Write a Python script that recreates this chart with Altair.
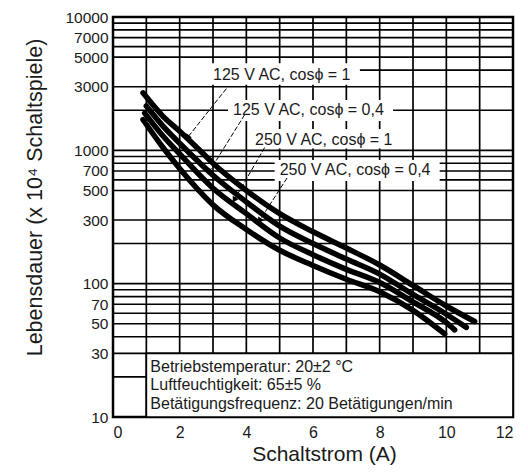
import math
import altair as alt
import pandas as pd

# ---------------- data ----------------
series_names = ["125 V AC, cosϕ = 1", "125 V AC, cosϕ = 0,4",
                "250 V AC, cosϕ = 1", "250 V AC, cosϕ = 0,4"]

x_a = [0.9, 1.5, 2.0, 2.5, 3.0, 4.0, 5.0, 6.0, 7.0, 8.0, 9.0, 10.0, 10.85]
y_a = [2700, 1800, 1390, 1060, 800, 500, 335, 245, 185, 138, 97, 68, 52]

x_b = [1.0, 1.5, 2.0, 3.0, 4.0, 5.0, 6.0, 7.0, 8.0, 9.0, 10.0, 10.6]
y_b = [2150, 1520, 1130, 650, 410, 270, 200, 153, 118, 83, 59, 47]

x_c = [0.95, 1.5, 2.0, 3.0, 4.0, 5.0, 6.0, 7.0, 8.0, 9.0, 10.0, 10.25]
y_c = [1900, 1280, 940, 520, 335, 220, 165, 128, 102, 73, 51, 45]

x_d = [0.9, 1.5, 2.0, 3.0, 4.0, 5.0, 6.0, 7.0, 8.0, 9.0, 9.95]
y_d = [1700, 1050, 730, 390, 255, 178, 137, 108, 87, 63, 42]

x_tick_labels = [0, 2, 4, 6, 8, 10, 12]
y_tick_labels = [10, 30, 50, 70, 100, 300, 500, 700, 1000, 3000, 5000, 7000, 10000]
x_grid = [1, 2, 3, 4, 5, 6, 7, 8, 9, 10, 11]
y_grid = [20, 30, 40, 50, 60, 70, 80, 90, 100, 200, 300, 500, 600, 700, 800,
          900, 1000, 2000, 3000, 5000, 6000, 7000, 8000, 9000]
# partial grid line right of the first label
part_grid_y = [4000]
part_grid_x1 = [7.4]
part_grid_x2 = [12]

# curve labels (text anchor) and their white boxes
label_x = [3.0, 3.6, 4.26, 5.0]
label_y = [3670, 2000, 1200, 710]
box_x1 = [2.82, 3.45, 4.1, 4.85]
box_x2 = [7.4, 8.4, 8.6, 9.8]
box_y1 = [3100, 1660, 1030, 590]
box_y2 = [4500, 2380, 1445, 845]

# arrows from labels to curves
arrow_x1 = [3.4, 3.95, 4.55, 5.22]
arrow_y1 = [2900, 1850, 1050, 620]
arrow_x2 = [2.25, 2.9, 3.65, 4.41]
arrow_y2 = [1260, 700, 430, 300]

# conditions box
cond_lines = ["Betriebstemperatur: 20±2 °C",
              "Luftfeuchtigkeit: 65±5 %",
              "Betätigungsfrequenz: 20 Betätigungen/min"]
cond_x = [1.12, 1.12, 1.12]
cond_y = [23.8, 17.3, 12.6]
cond_box = {"x1": [1.0], "x2": [12.0], "y1": [10.0], "y2": [30.0]}

# ---------------- tables ----------------
rows = []
for name, xs_, ys_ in zip(series_names, [x_a, x_b, x_c, x_d], [y_a, y_b, y_c, y_d]):
    for xv, yv in zip(xs_, ys_):
        rows.append({"series": name, "x": xv, "y": yv})
curves = pd.DataFrame(rows)

labels = pd.DataFrame({"text": series_names, "x": label_x, "y": label_y})
boxes = pd.DataFrame({"x1": box_x1, "x2": box_x2, "y1": box_y1, "y2": box_y2})

W, H = 400, 400
angles = []
for a, b, c, d in zip(arrow_x1, arrow_y1, arrow_x2, arrow_y2):
    dx = (c - a) * W / 12
    dy = -(math.log10(d) - math.log10(b)) * H / 3
    angles.append(math.degrees(math.atan2(dx, -dy)) % 360)
arrows = pd.DataFrame({"x1": arrow_x1, "y1": arrow_y1, "x2": arrow_x2,
                       "y2": arrow_y2, "ang": angles})
cond = pd.DataFrame({"text": cond_lines, "x": cond_x, "y": cond_y})
condbox = pd.DataFrame(cond_box)
xg = pd.DataFrame({"v": x_grid})
yg = pd.DataFrame({"v": y_grid})
pg = pd.DataFrame({"y": part_grid_y, "x1": part_grid_x1, "x2": part_grid_x2})

FONT = "Liberation Sans"
TXT = "#1a1a1a"
xs = alt.Scale(domain=[0, 12], nice=False, zero=False)
ys = alt.Scale(type="log", domain=[10, 10000], nice=False)

x_axis = alt.Axis(values=x_tick_labels, grid=False, ticks=False, domain=False,
                  labelFontSize=16, labelFont=FONT, labelColor=TXT,
                  labelPadding=7, labelAngle=0,
                  title="Schaltstrom (A)", titleFont=FONT, titleFontSize=21,
                  titleFontWeight="normal", titleColor=TXT,
                  titleX=211, titleY=43, titleBaseline="alphabetic")
y_axis = alt.Axis(values=y_tick_labels, format="d", grid=False, ticks=False,
                  domain=False, labelFontSize=15.5, labelFont=FONT,
                  labelColor=TXT, labelPadding=5,
                  title="Lebensdauer (x 10⁴ Schaltspiele)", titleFont=FONT,
                  titleFontSize=21.5, titleFontWeight="normal", titleColor=TXT,
                  titleX=-78, titleY=180, titleAlign="center",
                  titleBaseline="middle", titleAngle=270)


def X(field):
    return alt.X(field, scale=xs, axis=x_axis)


def Y(field):
    return alt.Y(field, scale=ys, axis=y_axis)


vgrid = alt.Chart(xg).mark_rule(color="black", strokeWidth=1.7).encode(
    x=X("v:Q"))
hgrid = alt.Chart(yg).mark_rule(color="black", strokeWidth=1.6).encode(
    y=Y("v:Q"))
pgrid = alt.Chart(pg).mark_rule(color="black", strokeWidth=1.8).encode(
    x=X("x1:Q"), x2="x2:Q", y=Y("y:Q"))

lbl_boxes = alt.Chart(boxes).mark_rect(fill="white").encode(
    x=X("x1:Q"), x2="x2:Q", y=Y("y1:Q"), y2="y2:Q")

cbox = alt.Chart(condbox).mark_rect(fill="white", stroke="black",
                                    strokeWidth=1.7).encode(
    x=X("x1:Q"), x2="x2:Q", y=Y("y1:Q"), y2="y2:Q")

lines = alt.Chart(curves).mark_line(color="black", strokeWidth=5.5,
                                    strokeCap="round", strokeJoin="round",
                                    interpolate="monotone").encode(
    x=X("x:Q"), y=Y("y:Q"), detail="series:N", order="x:Q")

arrow_lines = alt.Chart(arrows).mark_rule(color="black", strokeWidth=1,
                                          strokeDash=[5, 2]).encode(
    x=X("x1:Q"), x2="x2:Q", y=Y("y1:Q"), y2="y2:Q")

arrow_heads = alt.Chart(arrows).mark_point(shape="triangle", filled=True,
                                           color="black", size=45,
                                           opacity=1).encode(
    x=X("x2:Q"), y=Y("y2:Q"), angle=alt.Angle("ang:Q", scale=None))

lbl_text = alt.Chart(labels).mark_text(align="left", baseline="middle",
                                       font=FONT, fontSize=16,
                                       color=TXT).encode(
    x=X("x:Q"), y=Y("y:Q"), text="text:N")

cond_text = alt.Chart(cond).mark_text(align="left", baseline="middle",
                                      font=FONT, fontSize=16,
                                      color=TXT).encode(
    x=X("x:Q"), y=Y("y:Q"), text="text:N")

chart = alt.layer(vgrid, hgrid, pgrid, lbl_boxes, cbox, lines, arrow_lines,
                  arrow_heads, lbl_text, cond_text).properties(
    width=W, height=H,
    autosize=alt.AutoSizeParams(type="none"),
    padding={"left": 105, "top": 9, "right": 7, "bottom": 50},
    background="white",
).configure_view(stroke="black", strokeWidth=2.5)

chart.save("out.html", embed_options={"renderer": "svg", "actions": False})
